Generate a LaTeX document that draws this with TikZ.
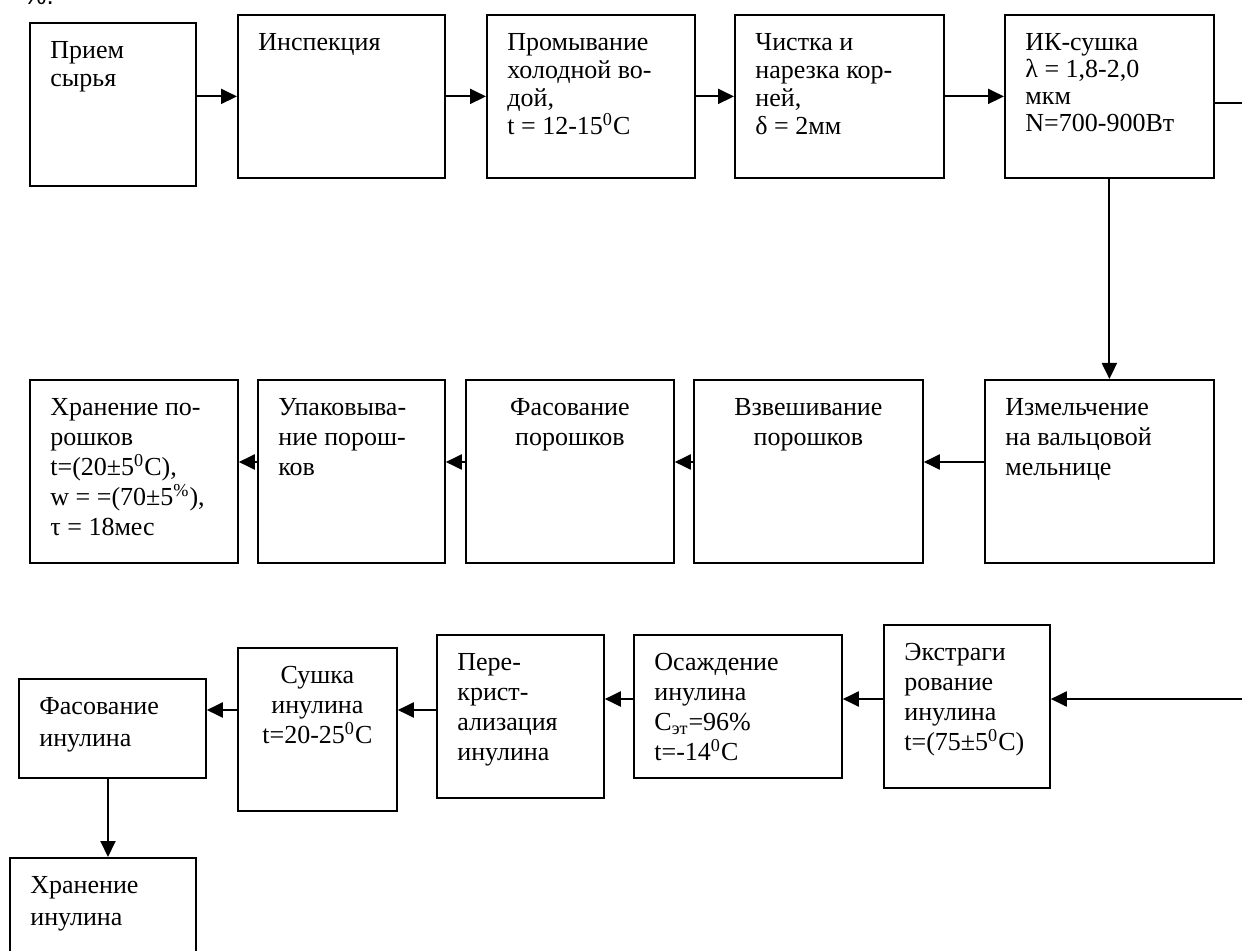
\documentclass[tikz,border=0pt]{standalone}
\usepackage{fontspec}
\setmainfont{Liberation Serif}
\newfontfamily\notefont{Liberation Sans}
\usetikzlibrary{arrows.meta}

\tikzset{
  stage/.style 2 args={draw, line width=0.9pt, anchor=north west, inner sep=0pt,
    minimum width=#1*0.5pt, minimum height=#2*0.5pt},
  txt/.style={anchor=north west, align=left, inner sep=0pt, xshift=10.5pt, yshift=-9.5pt,
    font=\fontsize{13}{#1}\selectfont},
  txt/.default=14,
  txtc/.style={anchor=north, align=center, inner sep=0pt, yshift=-9.5pt,
    font=\fontsize{13}{#1}\selectfont},
  txtc/.default=14,
  arr/.style={-{Triangle[length=8pt,width=7.5pt]}, line width=1pt},
  link/.style={line width=1pt},
}

\begin{document}
\begin{tikzpicture}[x=0.5pt, y=-0.5pt]
\useasboundingbox (0,0) rectangle (1242,951);

\node[font=\notefont\fontsize{13}{14}\selectfont, anchor=base west, inner sep=0pt] (pctnote) at (23,5) {\%.};

% first row: raw roots to IR drying
\node[stage={166}{163}, label={[txt]north west:{Прием\\сырья}}] (priem) at (29,22) {};
\node[stage={207}{163}, label={[txt]north west:{Инспекция}}] (insp) at (237,14) {};
\node[stage={208}{163}, label={[txt]north west:{Промывание\\холодной во-\\дой,\\t = 12-15\textsuperscript{0}C}}] (promyv) at (486,14) {};
\node[stage={209}{163}, label={[txt]north west:{Чистка и\\нарезка кор-\\ней,\\δ = 2мм}}] (chistka) at (734,14) {};
\node[stage={209}{163}, label={[txt=13.5]north west:{ИК-сушка\\λ = 1,8-2,0\\мкм\\N=700-900Вт}}] (iksush) at (1004,14) {};

% second row: powders
\node[stage={208}{183}, label={[txt=15]north west:{Хранение по-\\рошков\\t=(20±5\textsuperscript{0}C),\\w = =(70±5\textsuperscript{\%}),\\τ = 18мес}}] (hranP) at (29,379) {};
\node[stage={187}{183}, label={[txt=15]north west:{Упаковыва-\\ние порош-\\ков}}] (upak) at (257,379) {};
\node[stage={208}{183}, label={[txtc=15]north:{Фасование\\порошков}}] (fasP) at (465,379) {};
\node[stage={229}{183}, label={[txtc=15]north:{Взвешивание\\порошков}}] (vzv) at (693,379) {};
\node[stage={229}{183}, label={[txt=15]north west:{Измельчение\\на вальцовой\\мельнице}}] (izm) at (984,379) {};

% third row: inulin
\node[stage={187}{99}, label={[txt=16]north west:{Фасование\\инулина}}] (fasI) at (18,678) {};
\node[stage={186}{120}, label={[txt=16]north west:{Хранение\\инулина}}] (hranI) at (9,857) {};
\node[stage={159}{163}, label={[txtc=15]north:{Сушка\\инулина\\t=20-25\textsuperscript{0}C}}] (sushI) at (237,647) {};
\node[stage={167}{163}, label={[txt=15]north west:{Пере-\\крист-\\ализация\\инулина}}] (perekr) at (436,634) {};
\node[stage={208}{143}, label={[txt=15]north west:{Осаждение\\инулина\\C\textsubscript{эт}=96\%\\t=-14\textsuperscript{0}C}}] (osazh) at (633,634) {};
\node[stage={166}{163}, label={[txt=15]north west:{Экстраги\\рование\\инулина\\t=(75±5\textsuperscript{0}C)}}] (ekstr) at (883,624) {};

\coordinate (outR) at (1250,103);
\coordinate (inR) at (1250,699);
\coordinate (lvlB) at (0,462);
\coordinate (lvlC) at (0,710);
\coordinate (lvlD) at (108,0);

\draw[arr] (priem.east |- insp.west) -- (insp.west);
\draw[arr] (insp.east) -- (promyv.west);
\draw[arr] (promyv.east) -- (chistka.west);
\draw[arr] (chistka.east) -- (iksush.west);
\draw[link] (iksush.east |- outR) -- (outR);
\draw[arr] (iksush.south) -- (iksush.south |- izm.north);

\draw[arr] (izm.west |- lvlB) -- (vzv.east |- lvlB);
\draw[arr] (vzv.west |- lvlB) -- (fasP.east |- lvlB);
\draw[arr] (fasP.west |- lvlB) -- (upak.east |- lvlB);
\draw[arr] (upak.west |- lvlB) -- (hranP.east |- lvlB);

\draw[arr] (inR) -- (inR -| ekstr.east);
\draw[arr] (ekstr.west |- inR) -- (osazh.east |- inR);
\draw[arr] (osazh.west |- inR) -- (perekr.east |- inR);
\draw[arr] (perekr.west |- lvlC) -- (sushI.east |- lvlC);
\draw[arr] (sushI.west |- lvlC) -- (fasI.east |- lvlC);
\draw[arr] (fasI.south -| lvlD) -- (hranI.north -| lvlD);

\end{tikzpicture}
\end{document}
